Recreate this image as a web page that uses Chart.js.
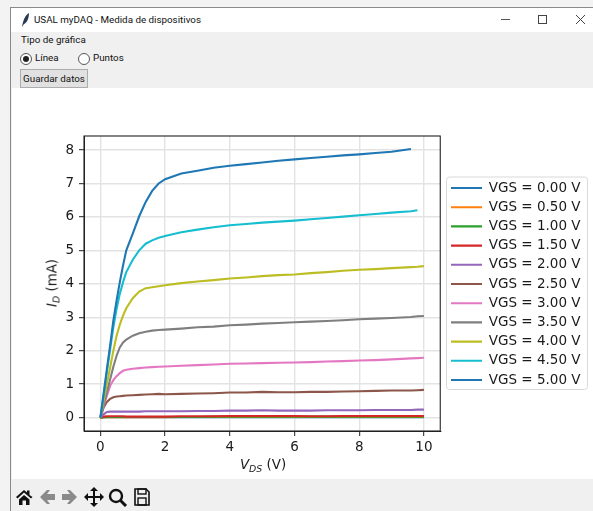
<!DOCTYPE html>
<html>
<head>
<meta charset="utf-8">
<title>USAL myDAQ - Medida de dispositivos</title>
<script src="https://cdn.jsdelivr.net/npm/chart.js@4"></script>
<style>
html, body { margin: 0; padding: 0; background: #f3f3f3; overflow: hidden; }
body { width: 593px; height: 511px; position: relative; font-family: Roboto, "Noto Sans", sans-serif; font-size: 9.8px; color: #111; }
.abs { position: absolute; white-space: nowrap; }
#win { left: 10px; top: 7px; width: 583px; height: 504px; background: #f0f0f0; border-left: 1px solid #8a8a8a; border-top: 1px solid #8a8a8a; }
#bar { left: 11px; top: 8px; width: 582px; height: 24px; background: #fff; }
#plot { left: 12px; top: 88px; width: 581px; height: 391px; background: #fff; }
#plot canvas { display: block; }
.radio { width: 10px; height: 10px; border: 1px solid #555; border-radius: 50%; background: #fff; }
.radio.on::after { content: ""; position: absolute; left: 2px; top: 2px; width: 6px; height: 6px; border-radius: 50%; background: #222; }
#save { left: 20px; top: 69px; width: 66px; height: 17px; line-height: 17px; text-align: center; background: #e1e1e1; border: 1px solid #adadad; }
.axis { font-family: "DejaVu Sans", sans-serif; font-size: 13.4px; color: #1a1a1a; }
.axis sub { font-size: 9.4px; vertical-align: -3px; line-height: 0; }
#ylab { left: 52px; top: 283px; transform: translate(-50%, -50%) rotate(-90deg); }
#xlab { left: 263px; top: 464px; transform: translate(-50%, -50%); }
</style>
</head>
<body>
<div class="abs" id="win"></div>
<div class="abs" id="bar"></div>
<svg class="abs" style="left:20px;top:12px" width="12" height="16" viewBox="0 0 12 16"><path d="M2 15 C3 9 5 3 9 1 C9 6 7 11 4 12 Z" fill="#2a3a55"/></svg>
<div class="abs" style="left:34px;top:14px">USAL myDAQ - Medida de dispositivos</div>
<div class="abs" style="left:501px;top:19px;width:9px;height:1px;background:#555"></div>
<div class="abs" style="left:538px;top:15px;width:7px;height:7px;border:1px solid #444"></div>
<svg class="abs" style="left:576px;top:15px" width="9" height="9"><path d="M0 0L9 9M9 0L0 9" stroke="#444" stroke-width="1"/></svg>
<div class="abs" style="left:21px;top:34px">Tipo de gráfica</div>
<div class="abs radio on" style="left:20px;top:53px"></div>
<div class="abs" style="left:35px;top:52px">Línea</div>
<div class="abs radio" style="left:78px;top:53px"></div>
<div class="abs" style="left:93px;top:52px">Puntos</div>
<div class="abs" id="save">Guardar datos</div>
<div class="abs" id="plot"><canvas id="mycanvas" width="581" height="391"></canvas></div>
<div class="abs axis" id="ylab"><i>I<sub>D</sub></i> (mA)</div>
<div class="abs axis" id="xlab"><i>V<sub>DS</sub></i> (V)</div>
<svg class="abs" style="left:14px;top:487px" width="140" height="20" viewBox="0 0 140 20">
	<path d="M2 10 L10 3 L13 5.5 L13 3.5 L15.5 3.5 L15.5 8 L18.5 10 L17 11.5 L10 5.5 L3.5 11.5 Z M5 12.5 L10 8 L15.5 12.5 L15.5 18 L12 18 L12 13.5 L8.5 13.5 L8.5 18 L5 18 Z" fill="#111"/>
	<path d="M26 10 L33 3 L36 3 L33 7 L41 7 L41 13 L33 13 L36 17 L33 17 Z" fill="#8a8a8a"/>
	<path d="M63 10 L56 3 L53 3 L56 7 L48 7 L48 13 L56 13 L53 17 L56 17 Z" fill="#8a8a8a"/>
	<path d="M80 0 L84 4 L81 4 L81 9 L86 9 L86 6 L90 10 L86 14 L86 11 L81 11 L81 16 L84 16 L80 20 L76 16 L79 16 L79 11 L74 11 L74 14 L70 10 L74 6 L74 9 L79 9 L79 4 L76 4 Z" fill="#111"/>
	<circle cx="102" cy="9" r="6" fill="none" stroke="#111" stroke-width="2.4"/>
	<path d="M106 13 L112 19" stroke="#111" stroke-width="3"/>
	<path d="M121 2 L132 2 L135 5 L135 18 L121 18 Z" fill="none" stroke="#111" stroke-width="1.6"/>
	<rect x="124" y="2" width="8" height="5" fill="none" stroke="#111" stroke-width="1.4"/>
	<rect x="124" y="11" width="8" height="7" fill="none" stroke="#111" stroke-width="1.4"/>
</svg>
<script>
var vds = [0, 0.1, 0.2, 0.3, 0.4, 0.5, 0.6, 0.7, 0.8, 1, 1.2, 1.4, 1.6, 1.8, 2, 2.5, 3, 3.5, 4, 4.5, 5, 5.5, 6, 6.5, 7, 7.5, 8, 8.5, 9, 9.6, 9.8, 10];
var vgsLabels = ["VGS = 0.00 V", "VGS = 0.50 V", "VGS = 1.00 V", "VGS = 1.50 V", "VGS = 2.00 V", "VGS = 2.50 V", "VGS = 3.00 V", "VGS = 3.50 V", "VGS = 4.00 V", "VGS = 4.50 V", "VGS = 5.00 V"];
var vgsColors = ["#1f77b4", "#ff7f0e", "#2ca02c", "#d62728", "#9467bd", "#8c564b", "#e377c2", "#7f7f7f", "#bcbd22", "#17becf", "#1f77b4"];

var id00 = [0, 0.01, 0.01, 0.01, 0.01, 0.01, 0.01, 0.01, 0.01, 0.01, 0.01, 0.01, 0.01, 0.01, 0.01, 0.01, 0.01, 0.01, 0.01, 0.01, 0.01, 0.01, 0.01, 0.01, 0.01, 0.01, 0.01, 0.01, 0.01, 0.01, 0.01, 0.01];
var id05 = [0, 0.01, 0.01, 0.01, 0.01, 0.01, 0.01, 0.01, 0.01, 0.01, 0.01, 0.01, 0.01, 0.01, 0.01, 0.02, 0.02, 0.02, 0.02, 0.02, 0.02, 0.02, 0.02, 0.02, 0.02, 0.02, 0.02, 0.02, 0.02, 0.02, 0.02, 0.02];
var id10 = [0, 0.01, 0.02, 0.02, 0.02, 0.02, 0.02, 0.02, 0.02, 0.02, 0.02, 0.02, 0.02, 0.02, 0.02, 0.02, 0.02, 0.03, 0.03, 0.03, 0.03, 0.03, 0.03, 0.03, 0.03, 0.03, 0.03, 0.03, 0.03, 0.03, 0.03, 0.03];
var id15 = [0, 0.03, 0.04, 0.04, 0.04, 0.04, 0.04, 0.04, 0.03, 0.03, 0.03, 0.03, 0.03, 0.03, 0.03, 0.04, 0.04, 0.04, 0.05, 0.05, 0.05, 0.05, 0.05, 0.04, 0.04, 0.05, 0.05, 0.05, 0.05, 0.05, 0.05, 0.05];
var id20 = [0, 0.1, 0.17, 0.18, 0.18, 0.18, 0.18, 0.18, 0.18, 0.18, 0.18, 0.19, 0.19, 0.19, 0.19, 0.19, 0.2, 0.2, 0.21, 0.21, 0.22, 0.21, 0.21, 0.21, 0.22, 0.22, 0.22, 0.23, 0.23, 0.23, 0.24, 0.24];
var id25 = [0, 0.3, 0.47, 0.56, 0.61, 0.63, 0.64, 0.65, 0.66, 0.67, 0.68, 0.69, 0.7, 0.71, 0.7, 0.71, 0.72, 0.73, 0.75, 0.75, 0.77, 0.76, 0.76, 0.77, 0.77, 0.78, 0.79, 0.8, 0.81, 0.81, 0.82, 0.83];
var id30 = [0, 0.35, 0.65, 0.95, 1.12, 1.24, 1.33, 1.4, 1.43, 1.46, 1.48, 1.5, 1.51, 1.52, 1.53, 1.55, 1.57, 1.59, 1.61, 1.62, 1.63, 1.64, 1.65, 1.66, 1.68, 1.69, 1.71, 1.72, 1.74, 1.77, 1.78, 1.79];
var id35 = [0, 0.38, 0.76, 1.14, 1.52, 1.85, 2.1, 2.25, 2.33, 2.45, 2.52, 2.57, 2.6, 2.62, 2.63, 2.66, 2.7, 2.72, 2.76, 2.78, 2.81, 2.83, 2.85, 2.87, 2.89, 2.91, 2.94, 2.96, 2.98, 3.01, 3.03, 3.04];
var id40 = [0, 0.5, 1, 1.5, 2, 2.45, 2.78, 3.05, 3.27, 3.57, 3.77, 3.87, 3.9, 3.93, 3.96, 4.02, 4.07, 4.11, 4.16, 4.19, 4.23, 4.26, 4.28, 4.32, 4.35, 4.39, 4.42, 4.44, 4.47, 4.5, 4.51, 4.53];
var id45 = [0, 0.68, 1.36, 2.04, 2.7, 3.25, 3.7, 4.05, 4.35, 4.72, 5, 5.2, 5.3, 5.38, 5.43, 5.54, 5.62, 5.69, 5.75, 5.79, 5.83, 5.86, 5.89, 5.93, 5.97, 6.01, 6.05, 6.09, 6.13, 6.17, 6.2, null];
var id50 = [0, 0.72, 1.45, 2.15, 2.9, 3.5, 4.05, 4.55, 5, 5.5, 6.02, 6.45, 6.78, 7, 7.13, 7.3, 7.38, 7.47, 7.53, 7.58, 7.63, 7.68, 7.72, 7.76, 7.8, 7.84, 7.87, 7.91, 7.95, 8.03, null, null];
var seriesValues = [id00, id05, id10, id15, id20, id25, id30, id35, id40, id45, id50];

var datasets = seriesValues.map(function (values, i) {
	return {
		label: vgsLabels[i],
		data: values.map(function (y, k) { return { x: vds[k], y: y }; }),
		borderColor: vgsColors[i],
		backgroundColor: vgsColors[i],
		borderWidth: 2.1,
		pointRadius: 0,
		tension: 0,
		spanGaps: false,
		// later series on top, lower order is drawn last
		order: seriesValues.length - i
	};
});

// frame around the plot and around the legend, like matplotlib does
var framePlugin = {
	id: "frames",
	afterLayout: function (chart) {
		var l = chart.legend, w = l.right - l.left;
		l.left = 433.3;
		l.right = l.left + w;
		l.top -= 23.5;
		l.bottom -= 23.5;
	},
	afterDatasetsDraw: function (chart) {
		var a = chart.chartArea, c = chart.ctx;
		c.save();
		c.strokeStyle = "#222";
		c.lineWidth = 1.1;
		c.strokeRect(a.left, a.top, a.right - a.left, a.bottom - a.top);
		c.restore();
	},
	beforeDraw: function (chart) {
		var c = chart.ctx;
		c.save();
		c.strokeStyle = "#d9d9d9";
		c.lineWidth = 1;
		c.beginPath();
		c.roundRect(434.5, 89, 141, 212.5, 3);
		c.stroke();
		c.restore();
	}
};

var tickFont = { family: "'DejaVu Sans'", size: 13.5 };

new Chart(document.getElementById("mycanvas"), {
	type: "line",
	data: { datasets: datasets },
	plugins: [framePlugin],
	options: {
		responsive: false,
		animation: false,
		layout: { padding: { left: 0, top: 48, right: 10, bottom: 0 } },
		plugins: {
			tooltip: { enabled: false },
			legend: {
				position: "right",
				align: "center",
				labels: {
					font: tickFont,
					color: "#1a1a1a",
					usePointStyle: true,
					pointStyle: "line",
					pointStyleWidth: 31,
					padding: 5.7,
					sort: function (a, b) { return a.datasetIndex - b.datasetIndex; }
				}
			}
		},
		scales: {
			x: {
				type: "linear",
				min: -0.507,
				max: 10.505,
				afterFit: function (s) { s.height = 48; },
				border: { color: "#222", width: 1 },
				grid: { color: "#e3e3e3", lineWidth: 1.4, tickColor: "#222", tickLength: 5, tickWidth: 1 },
				ticks: { stepSize: 2, includeBounds: false, maxRotation: 0, font: tickFont, color: "#1a1a1a", padding: 3 }
			},
			y: {
				type: "linear",
				min: -0.4,
				max: 8.42,
				afterFit: function (s) { s.width = 72; },
				border: { color: "#222", width: 1 },
				grid: { color: "#e3e3e3", lineWidth: 1.4, tickColor: "#222", tickLength: 5, tickWidth: 1 },
				ticks: { stepSize: 1, includeBounds: false, font: tickFont, color: "#1a1a1a", padding: 5 }
			}
		}
	}
});
</script>
</body>
</html>
